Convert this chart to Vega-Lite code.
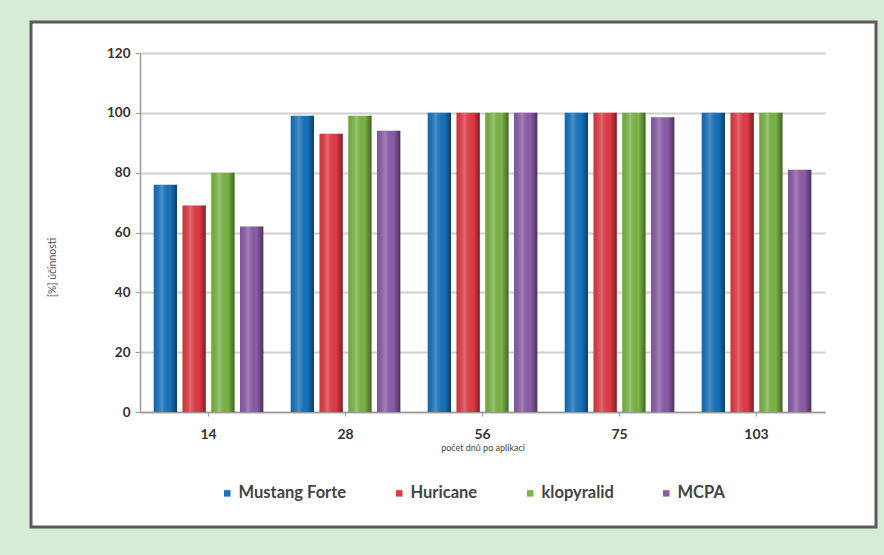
{
  "$schema": "https://vega.github.io/schema/vega-lite/v6.json",
  "width": 845,
  "height": 505,
  "autosize": {"type": "none"},
  "padding": {"left": 31, "top": 22, "right": 8, "bottom": 28},
  "background": "#d7ecd5",
  "config": {
    "font": "Lato",
    "view": {"fill": "#ffffff", "stroke": "#5a5a5a", "strokeWidth": 3}
  },
  "data": {
    "values": [
      {"den": "14", "pripravek": "Mustang Forte", "ucinnost": 76},
      {"den": "14", "pripravek": "Huricane", "ucinnost": 69},
      {"den": "14", "pripravek": "klopyralid", "ucinnost": 80},
      {"den": "14", "pripravek": "MCPA", "ucinnost": 62},
      {"den": "28", "pripravek": "Mustang Forte", "ucinnost": 99},
      {"den": "28", "pripravek": "Huricane", "ucinnost": 93},
      {"den": "28", "pripravek": "klopyralid", "ucinnost": 99},
      {"den": "28", "pripravek": "MCPA", "ucinnost": 94},
      {"den": "56", "pripravek": "Mustang Forte", "ucinnost": 100},
      {"den": "56", "pripravek": "Huricane", "ucinnost": 100},
      {"den": "56", "pripravek": "klopyralid", "ucinnost": 100},
      {"den": "56", "pripravek": "MCPA", "ucinnost": 100},
      {"den": "75", "pripravek": "Mustang Forte", "ucinnost": 100},
      {"den": "75", "pripravek": "Huricane", "ucinnost": 100},
      {"den": "75", "pripravek": "klopyralid", "ucinnost": 100},
      {"den": "75", "pripravek": "MCPA", "ucinnost": 98.5},
      {"den": "103", "pripravek": "Mustang Forte", "ucinnost": 100},
      {"den": "103", "pripravek": "Huricane", "ucinnost": 100},
      {"den": "103", "pripravek": "klopyralid", "ucinnost": 100},
      {"den": "103", "pripravek": "MCPA", "ucinnost": 81}
    ]
  },
  "encoding": {
    "x": {
      "field": "den",
      "type": "nominal",
      "sort": ["14", "28", "56", "75", "103"],
      "scale": {"range": [109, 794], "paddingInner": 0.2, "paddingOuter": 0.1},
      "axis": {
        "title": "počet dnů po aplikaci",
        "titleFontSize": 9,
        "titleFontWeight": "normal",
        "titleColor": "#444444",
        "titlePadding": 2,
        "offset": -115,
        "labelAngle": 0,
        "labelFontSize": 14,
        "labelFontWeight": "bold",
        "labelColor": "#333333",
        "labelPadding": 11,
        "domainColor": "#9a9a9a",
        "domainWidth": 1.5,
        "tickColor": "#9a9a9a",
        "tickSize": 4,
        "grid": false
      }
    },
    "xOffset": {
      "field": "pripravek",
      "type": "nominal",
      "sort": ["Mustang Forte", "Huricane", "klopyralid", "MCPA"],
      "scale": {"paddingInner": 0.19}
    },
    "y": {
      "field": "ucinnost",
      "type": "quantitative",
      "scale": {"domain": [0, 120], "nice": false, "range": [390, 31]},
      "axis": {
        "title": "[%] účinnosti",
        "titleFontSize": 10.5,
        "titleFontWeight": "normal",
        "titleColor": "#555555",
        "titleX": -83,
        "titleY": 245,
        "offset": -109,
        "values": [0, 20, 40, 60, 80, 100, 120],
        "labelFontSize": 13.5,
        "labelFontWeight": "bold",
        "labelColor": "#333333",
        "labelPadding": 5,
        "domainColor": "#9a9a9a",
        "domainWidth": 1.5,
        "tickColor": "#9a9a9a",
        "tickSize": 5,
        "gridColor": "#cfcfcf",
        "gridWidth": 2
      }
    }
  },
  "layer": [
    {
      "mark": {"type": "bar"},
      "encoding": {
        "color": {
          "field": "pripravek",
          "type": "nominal",
          "sort": ["Mustang Forte", "Huricane", "klopyralid", "MCPA"],
          "scale": {
            "domain": ["Mustang Forte", "Huricane", "klopyralid", "MCPA"],
            "range": ["#1673bd", "#e23b45", "#7bb546", "#8c5ca9"]
          },
          "legend": {
            "title": null,
            "orient": "none",
            "direction": "horizontal",
            "legendX": 188,
            "legendY": 463,
            "padding": 0,
            "symbolType": "square",
            "symbolSize": 42,
            "symbolStrokeWidth": 0,
            "labelFontSize": 16.5,
            "labelFontWeight": "bold",
            "labelColor": "#444444",
            "labelOffset": 3,
            "columnPadding": 44
          }
        }
      }
    },
    {
      "mark": {
        "type": "bar",
        "color": {
          "gradient": "linear",
          "x1": 0, "y1": 0, "x2": 1, "y2": 0,
          "stops": [
            {"offset": 0, "color": "rgba(0,0,0,0.08)"},
            {"offset": 0.35, "color": "rgba(255,255,255,0.22)"},
            {"offset": 0.7, "color": "rgba(0,0,0,0)"},
            {"offset": 1, "color": "rgba(0,0,0,0.45)"}
          ]
        }
      }
    }
  ]
}
